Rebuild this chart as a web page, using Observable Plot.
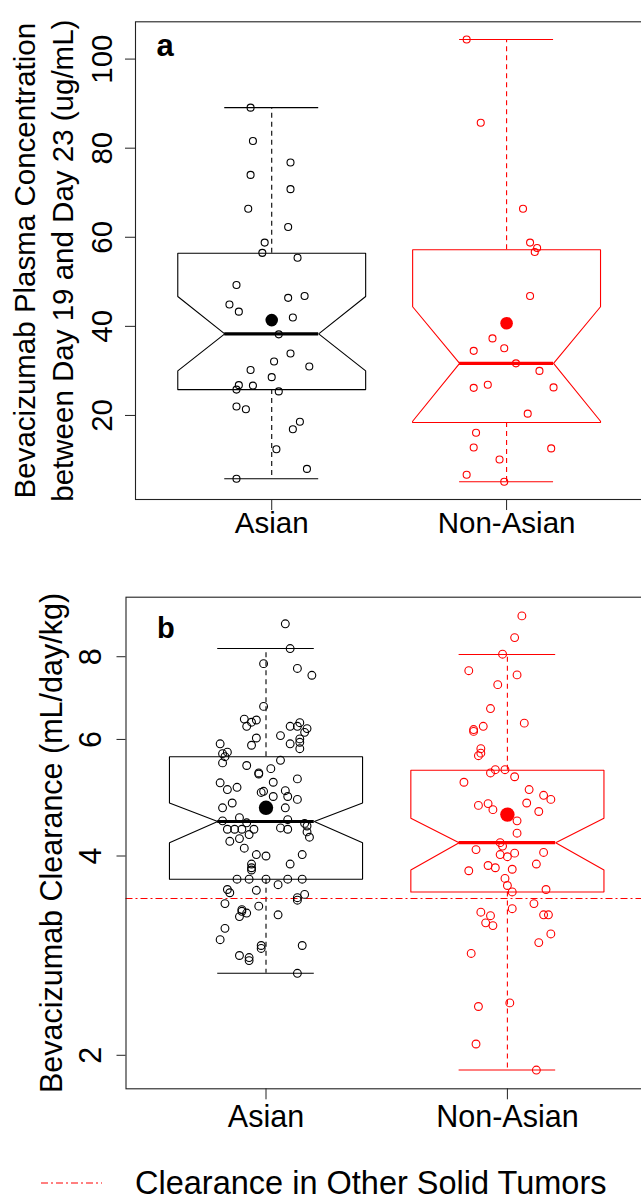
<!DOCTYPE html>
<html>
<head>
<meta charset="utf-8">
<script src="https://cdn.jsdelivr.net/npm/d3@7"></script>
<script src="https://cdn.jsdelivr.net/npm/@observablehq/plot@0.6"></script>
<style>
html, body { margin: 0; padding: 0; background: #fff; overflow: hidden; width: 641px; height: 1201px; }
#chart svg { display: block; max-width: none !important; height: auto; }
</style>
</head>
<body>
<div id="chart"></div>
<script>
// ---------------- data ----------------
const groups = ["Asian", "Non-Asian"];
const groupColors = ["black", "red"];

// Panel a: plasma concentration (ug/mL)
const concAsian = [89.1, 81.6, 76.8, 74.0, 70.8, 66.4, 62.3, 58.8, 56.5, 55.4, 49.3, 46.4, 46.8, 44.9, 43.3, 42.0, 38.2, 33.9, 32.1, 30.2, 31.0, 28.6, 26.8, 26.7, 25.8, 25.4, 22.0, 21.4, 18.6, 16.9, 12.4, 8.0, 5.8];
const concAsianJitter = [-0.09, -0.08, 0.08, -0.09, 0.08, -0.10, 0.07, -0.03, -0.04, 0.11, -0.15, 0.07, 0.14, -0.18, -0.14, 0.09, 0.03, 0.08, 0.01, -0.09, 0.16, 0.00, -0.14, -0.08, -0.15, 0.03, -0.15, -0.11, 0.12, 0.09, 0.02, 0.15, -0.15];
const concNonAsian = [104.4, 85.7, 66.4, 58.8, 57.6, 56.7, 46.8, 37.3, 35.1, 34.5, 31.7, 30.0, 26.9, 26.2, 26.3, 20.4, 16.1, 12.8, 12.6, 10.1, 6.7, 5.1];
const concNonAsianJitter = [-0.17, -0.11, 0.07, 0.10, 0.13, 0.12, 0.10, -0.06, -0.01, -0.14, 0.04, 0.14, -0.08, -0.14, 0.20, 0.09, -0.13, -0.14, 0.19, -0.03, -0.17, -0.01];

// Panel a box statistics [Asian, Non-Asian]
const concLowerWhisker = [5.8, 5.1];
const concQ1 = [25.8, 18.4];
const concNotchLo = [30.0, 18.7];
const concMedian = [38.3, 31.7];
const concNotchHi = [46.7, 44.4];
const concQ3 = [56.4, 57.2];
const concUpperWhisker = [89.1, 104.4];
const concMean = [41.4, 40.7];
const concTicks = [20, 40, 60, 80, 100];

// Panel b: clearance (mL/day/kg)
const clAsian = [8.97, 8.23, 7.81, 7.68, 7.50, 6.73, 6.44, 6.37, 6.42, 6.28, 6.28, 6.36, 6.28, 6.23, 6.15, 6.03, 6.08, 5.88, 6.01, 5.94, 5.91, 5.81, 5.91, 5.71, 5.74, 5.65, 5.53, 5.58, 5.48, 5.42, 5.34, 5.32, 5.23, 5.16, 5.04, 5.08, 5.17, 4.99, 5.01, 5.02, 4.92, 4.92, 4.87, 4.81, 4.73, 4.73, 4.57, 4.52, 4.49, 4.54, 4.48, 4.44, 4.39, 4.39, 4.39, 4.39, 4.41, 4.39,
  4.31, 4.35, 4.27, 4.21, 4.25, 4.11, 4.02, 4.00, 4.02, 3.89, 3.89, 3.84, 3.81, 3.69, 3.69, 3.69, 3.69, 3.69, 3.62, 3.56, 3.52, 3.55, 3.50, 3.46, 3.43, 3.39, 3.36, 3.32, 3.30, 3.28, 3.24, 3.26, 3.11, 2.99, 2.93, 2.90, 2.93, 2.83, 2.81, 2.78, 2.66];
const clAsianJitter = [0.08, 0.10, -0.01, 0.13, 0.19, -0.01, -0.09, -0.06, -0.04, -0.08, 0.10, 0.14, 0.13, 0.17, 0.16, -0.04, 0.06, -0.06, 0.14, 0.14, 0.10, 0.14, -0.19, -0.18, -0.16, -0.17, -0.18, 0.06, -0.08, 0.02, -0.03, -0.03, 0.13, -0.19, -0.16, -0.12, 0.03, -0.02, -0.01, 0.08, 0.03, 0.09, 0.13, -0.14, -0.18, 0.08, -0.11, -0.18, -0.08, 0.09, 0.16, 0.17, -0.16, -0.13, -0.10, -0.05, 0.06, 0.09,
  -0.07, 0.17, 0.18, -0.15, -0.11, -0.09, -0.04, 0.00, 0.15, 0.10, -0.06, -0.06, -0.06, -0.12, -0.07, 0.00, 0.09, 0.15, 0.05, -0.16, -0.15, -0.04, 0.16, 0.13, 0.13, -0.17, -0.03, -0.10, -0.10, -0.08, -0.11, 0.05, -0.17, -0.19, -0.02, -0.02, 0.15, -0.11, -0.07, -0.07, 0.13];
const clNonAsian = [9.22, 8.55, 8.07, 7.62, 7.51, 7.26, 6.68, 6.35, 6.28, 6.21, 6.17, 5.81, 5.72, 5.67, 5.40, 5.40, 5.34, 5.27, 5.17, 5.04, 4.94, 4.87, 4.77, 4.80, 4.70, 4.81, 4.67, 4.52, 4.33, 4.19, 4.14, 4.09, 4.02, 3.99, 4.04, 4.05, 3.89, 3.87, 3.84, 3.82, 3.80, 3.70, 3.61, 3.53, 3.56, 3.39, 3.33, 3.29, 3.25, 3.17, 3.14, 3.26, 3.26, 3.05, 2.96, 2.85, 2.37, 2.40, 2.08, 1.90];
const clNonAsianJitter = [0.06, 0.03, -0.02, -0.16, 0.04, -0.04, -0.07, 0.07, -0.10, -0.14, -0.14, -0.11, -0.11, -0.12, -0.05, -0.01, -0.07, 0.03, -0.18, 0.09, 0.15, 0.18, -0.12, -0.08, -0.06, 0.08, 0.13, 0.04, 0.04, -0.03, -0.02, -0.13, -0.03, 0.00, 0.03, 0.15, 0.12, -0.08, -0.05, 0.02, -0.16, -0.01, 0.00, 0.02, 0.16, 0.11, 0.02, -0.11, -0.07, -0.09, -0.06, 0.15, 0.17, 0.18, 0.13, -0.15, -0.12, 0.01, -0.13, 0.12];

// Panel b box statistics [Asian, Non-Asian]
const clLowerWhisker = [2.66, 1.90];
const clQ1 = [3.69, 3.53];
const clNotchLo = [4.19, 3.81];
const clMedian = [4.51, 4.19];
const clNotchHi = [4.81, 4.56];
const clQ3 = [5.65, 5.39];
const clUpperWhisker = [8.23, 8.06];
const clMean = [4.73, 4.62];
const clTicks = [2, 4, 6, 8];
const clOtherTumors = 3.45;

const legendLabel = "Clearance in Other Solid Tumors";

// ---------------- drawing ----------------
const FONT = "'Liberation Sans', Arial, Helvetica, sans-serif";

function boxMarks(st, pts, jit, cfg) {
  const marks = [];
  const w = 0.4, s = 0.2;
  for (let i = 0; i < 2; i++) {
    const c = i + 1, col = groupColors[i];
    const poly = [
      [c - w, st.q1[i]], [c - w, st.nlo[i]], [c - w / 2, st.med[i]], [c - w, st.nhi[i]], [c - w, st.q3[i]],
      [c + w, st.q3[i]], [c + w, st.nhi[i]], [c + w / 2, st.med[i]], [c + w, st.nlo[i]], [c + w, st.q1[i]],
      [c - w, st.q1[i]]
    ];
    marks.push(Plot.line(poly, {x: d => d[0], y: d => d[1], stroke: col, strokeWidth: 1.1, strokeLinejoin: "miter"}));
    marks.push(Plot.ruleX([c], {x: d => d, y1: () => st.q3[i], y2: () => st.upper[i], stroke: col, strokeWidth: 1.1, strokeDasharray: "5,4"}));
    marks.push(Plot.ruleX([c], {x: d => d, y1: () => st.q1[i], y2: () => st.lower[i], stroke: col, strokeWidth: 1.1, strokeDasharray: "5,4"}));
    marks.push(Plot.ruleY([st.upper[i], st.lower[i]], {y: d => d, x1: () => c - s, x2: () => c + s, stroke: col, strokeWidth: 1.1}));
    marks.push(Plot.ruleY([st.med[i]], {y: d => d, x1: () => c - s, x2: () => c + s, stroke: col, strokeWidth: 3.2}));
  }
  if (cfg.ref != null) {
    marks.push(Plot.ruleY([cfg.ref], {y: d => d, stroke: "red", strokeWidth: 1.1, strokeDasharray: "7,3,2,3"}));
  }
  for (let i = 0; i < 2; i++) {
    const c = i + 1, col = groupColors[i];
    marks.push(Plot.dot(pts[i], {x: (d, j) => c + jit[i][j], y: d => d, r: cfg.r, stroke: col, fill: "none", strokeWidth: 1.1}));
  }
  for (let i = 0; i < 2; i++) {
    const c = i + 1, col = groupColors[i];
    marks.push(Plot.dot([st.mean[i]], {x: () => c, y: d => d, r: cfg.meanR, fill: col, stroke: "none"}));
  }
  return marks;
}

function axesMarks(cfg) {
  const m = [];
  m.push(Plot.frame({stroke: "#222", strokeWidth: 1.1}));
  m.push(Plot.axisX({ticks: [1, 2], tickFormat: d => groups[d - 1], tickSize: 11, tickPadding: cfg.xPad, fontSize: cfg.fs, label: null, stroke: "#222"}));
  m.push(Plot.axisY({ticks: cfg.ticks, tickSize: cfg.ySize, tickFormat: () => "", label: null, stroke: "#222"}));
  m.push(Plot.text(cfg.ticks, {y: d => d, text: d => String(d), frameAnchor: "left", dx: cfg.tickDx, rotate: -90, textAnchor: "middle", lineAnchor: "bottom", fontSize: cfg.fs, fill: "black"}));
  cfg.titles.forEach(t => {
    m.push(Plot.text([t.text], {text: d => d, frameAnchor: "left", dx: t.dx, rotate: -90, textAnchor: "middle", lineAnchor: "bottom", fontSize: cfg.fs, fill: "black"}));
  });
  m.push(Plot.text([cfg.letter], {text: d => d, frameAnchor: "top-left", dx: cfg.letterDx, dy: cfg.letterDy, textAnchor: "start", lineAnchor: "bottom", fontSize: cfg.letterFs, fontWeight: "bold", fill: "black"}));
  return m;
}

const chart = document.getElementById("chart");

// Panel a
const plotA = Plot.plot({
  width: 645, height: 560,
  marginLeft: 135, marginRight: 2.7, marginTop: 21.3, marginBottom: 61,
  x: {domain: [0.42, 2.58]},
  y: {domain: [1.13, 108.37]},
  style: {fontFamily: FONT, background: "white", overflow: "visible", maxWidth: "none"},
  marks: [
    ...boxMarks(
      {lower: concLowerWhisker, q1: concQ1, nlo: concNotchLo, med: concMedian, nhi: concNotchHi, q3: concQ3, upper: concUpperWhisker, mean: concMean},
      [concAsian, concNonAsian], [concAsianJitter, concNonAsianJitter],
      {r: 3.5, meanR: 6.3}
    ),
    ...axesMarks({
      fs: 29.5, xPad: 2, ticks: concTicks, ySize: 10, tickDx: -23.5,
      titles: [
        {text: "Bevacizumab Plasma Concentration", dx: -100.3},
        {text: "between Day 19 and Day 23 (ug/mL)", dx: -62.2}
      ],
      letter: "a", letterDx: 21, letterDy: 33.7, letterFs: 31
    })
  ]
});
chart.appendChild(plotA);

// Panel b
const plotB = Plot.plot({
  width: 650, height: 590,
  marginLeft: 125.5, marginRight: 3.1, marginTop: 36.7, marginBottom: 61.7,
  x: {domain: [0.42, 2.58]},
  y: {type: "log", domain: [1.78, 9.84]},
  style: {fontFamily: FONT, background: "white", overflow: "visible", maxWidth: "none"},
  marks: [
    ...boxMarks(
      {lower: clLowerWhisker, q1: clQ1, nlo: clNotchLo, med: clMedian, nhi: clNotchHi, q3: clQ3, upper: clUpperWhisker, mean: clMean},
      [clAsian, clNonAsian], [clAsianJitter, clNonAsianJitter],
      {r: 3.9, meanR: 7.2, ref: clOtherTumors}
    ),
    ...axesMarks({
      fs: 30.5, xPad: 5.4, ticks: clTicks, ySize: 9, tickDx: -25.3,
      titles: [
        {text: "Bevacizumab Clearance (mL/day/kg)", dx: -64.2}
      ],
      letter: "b", letterDx: 31, letterDy: 40.3, letterFs: 29
    })
  ]
});
chart.appendChild(plotB);

// Legend (below the chart)
const legend = d3.create("svg").attr("width", 641).attr("height", 51).style("display", "block").style("font-family", FONT);
legend.append("line").attr("x1", 41).attr("x2", 102).attr("y1", 33).attr("y2", 33)
  .attr("stroke", "red").attr("stroke-width", 1.1).attr("stroke-dasharray", "7,3,2,3");
legend.append("text").attr("x", 135).attr("y", 44).attr("font-size", 32.5).attr("fill", "black").text(legendLabel);
chart.appendChild(legend.node());
</script>
</body>
</html>
